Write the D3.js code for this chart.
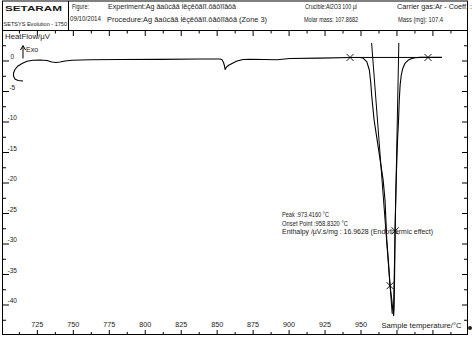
<!DOCTYPE html>
<html>
<head>
<meta charset="utf-8">
<script src="https://cdn.jsdelivr.net/npm/d3@7"></script>
<style>
  body { margin: 0; background: #fff; }
  svg { display: block; }
  text { font-family: "Liberation Sans", Arial, sans-serif; fill: #1a1a1a; }
</style>
</head>
<body>
<svg id="chart" width="472" height="340"></svg>
<script>
// DSC heating run: sample temperature (°C) and heat flow (µV)
const temperature = [
  715.7, 712.2, 710.1, 709.1, 709.1, 710.1, 712.2, 715.0, 718.5, 722.6,
  727.5, 732.4, 735.8, 738.6, 741.4, 744.9, 749.8, 762.3, 783.2, 811.0,
  838.8, 852.7, 854.1, 855.1, 855.8, 856.2, 857.2, 859.0, 861.7, 864.5,
  868.7, 873.5, 892.3, 901.3, 922.2, 943.1, 950.0, 952.3, 954.7, 956.5,
  957.5, 958.2, 958.9, 959.8, 961.9, 964.0, 966.1, 967.4, 968.6, 969.7,
  970.9, 972.1, 972.8, 973.4, 973.7, 973.9, 974.2, 974.4, 974.8, 975.4,
  976.1, 976.8, 977.3, 977.9, 978.7, 979.6, 981.3, 983.4, 985.5, 988.3,
  991.8, 997.3, 1007.0
];
const heatFlow = [
  -3.44, -3.36, -3.11, -2.62, -2.13, -1.56, -0.98, -0.57, -0.21, -0.03,
  0.00, -0.08, -0.33, -0.41, -0.33, -0.16, -0.03, 0.03, 0.08, 0.11,
  0.16, 0.16, 0.05, -0.41, -0.98, -1.56, -1.15, -0.82, -0.49, -0.16,
  0.08, 0.13, 0.05, 0.25, 0.30, 0.41, 0.41, 0.28, -0.28, -1.64,
  -3.77, -6.02, -7.66, -9.84, -13.1, -16.4, -19.7, -23.0, -29.5, -32.8,
  -37.0, -39.3, -41.0, -41.9, -40.7, -37.7, -32.8, -28.0, -23.0, -18.0,
  -13.1, -9.84, -6.56, -4.10, -2.46, -1.48, -0.54, -0.05, 0.21, 0.38,
  0.43, 0.43, 0.43
];

// peak evaluation
const peakTemp = 973.4160;
const onsetTemp = 958.8320;
const enthalpy = 16.9628;
const baselineT = [943.1, 997.3];
const baselineV = [0.42, 0.42];
const tangentPointT = [970.9, 974.4];
const tangentPointV = [-37.0, -28.0];
const onsetTangentT = [958.07, 972.38];
const onsetTangentV = [2.8, -41.6];
const returnTangentT = [977.0, 973.26];
const returnTangentV = [2.8, -41.6];

// axis ticks
const xLabelTicks = [725, 750, 775, 800, 825, 850, 875, 900, 925, 950];
const xMinorTicks = [712.5, 737.5, 762.5, 787.5, 812.5, 837.5, 862.5, 887.5, 912.5, 937.5, 962.5, 987.5, 1012.5];
const xMajorTicks = [725, 750, 775, 800, 825, 850, 875, 900, 925, 950, 975, 1000];
const yLabelTicks = [0, -5, -10, -15, -20, -25, -30, -35, -40];
const yMinorTicks = [2.5, -2.5, -7.5, -12.5, -17.5, -22.5, -27.5, -32.5, -37.5, -42.5];

const svg = d3.select("#chart");
const frame = { left: 2, right: 468, top: 30, bottom: 335 };

const x = d3.scaleLinear().domain([775, 950]).range([108.3, 360.0]);
const y = d3.scaleLinear().domain([0, -40]).range([60, 304]);

// header block
const hdr = svg.append("g");
hdr.append("line").attr("x1", frame.left).attr("x2", frame.right).attr("y1", 1).attr("y2", 1)
  .attr("stroke", "#000").attr("stroke-width", 1);
hdr.append("line").attr("x1", 68.5).attr("x2", 68.5).attr("y1", 1).attr("y2", frame.top)
  .attr("stroke", "#000").attr("stroke-width", 1);

function txt(g, s, xx, yy, size, width, bold) {
  const t = g.append("text").attr("x", xx).attr("y", yy).attr("font-size", size).text(s);
  if (width) t.attr("textLength", width).attr("lengthAdjust", "spacingAndGlyphs");
  if (bold) t.attr("font-weight", "bold");
  return t;
}
txt(hdr, "SETARAM", 5, 10.8, 7.5, 57, true);
txt(hdr, "SETSYS Evolution - 1750", 3.5, 25.5, 5.6, 63.5);
txt(hdr, "Figure:", 72, 9.3, 6.5, 17);
txt(hdr, "Experiment:Ag ăaŭcăă ĺĕçĕŏăĭĭ.ŏăŏĭĭăŏă", 108, 9.3, 6.5, 128);
txt(hdr, "Crucible:Al2O3 100 µl", 305, 9.3, 6.5, 52);
txt(hdr, "Carrier gas:Ar - Coeff. :", 397, 9.3, 6.5, 75);
txt(hdr, "09/10/2014", 70, 20.5, 6.5, 31);
txt(hdr, "Procedure:Ag ăaŭcăă ĺĕçĕŏăĭĭ.ŏăŏĭĭăŏă (Zone 3)", 107, 22.3, 6.5, 160);
txt(hdr, "Molar mass: 107.8682", 304, 22.3, 6.5, 54);
txt(hdr, "Mass (mg): 107.4", 398, 22.3, 6.5, 45);

// plot frame
svg.append("rect")
  .attr("x", frame.left + 0.5).attr("y", frame.top + 0.5)
  .attr("width", frame.right - frame.left - 1).attr("height", frame.bottom - frame.top - 1)
  .attr("fill", "none").attr("stroke", "#000").attr("stroke-width", 1);
svg.append("line").attr("x1", frame.left + 0.5).attr("x2", frame.left + 0.5)
  .attr("y1", 1).attr("y2", frame.top).attr("stroke", "#000");
svg.append("line").attr("x1", frame.right - 0.5).attr("x2", frame.right - 0.5)
  .attr("y1", 1).attr("y2", frame.top).attr("stroke", "#000");

// axes (ticks point into the plot)
function drawAxis(axis, tx, ty) {
  const g = svg.append("g").attr("transform", `translate(${tx},${ty})`).call(axis);
  g.select(".domain").remove();
  g.selectAll("text").remove();
  g.selectAll("line").attr("stroke", "#000").attr("stroke-width", 1);
  return g;
}
drawAxis(d3.axisBottom(x).tickValues(xMajorTicks).tickSize(6), 0.5, frame.top);
drawAxis(d3.axisBottom(x).tickValues(xMinorTicks).tickSize(3.5), 0.5, frame.top);
drawAxis(d3.axisTop(x).tickValues(xMajorTicks).tickSize(5), 0.5, frame.bottom);
drawAxis(d3.axisTop(x).tickValues(xMinorTicks).tickSize(3), 0.5, frame.bottom);
drawAxis(d3.axisRight(y).tickValues(yLabelTicks).tickSize(7), frame.left, 0.5);
drawAxis(d3.axisRight(y).tickValues(yMinorTicks).tickSize(4), frame.left, 0.5);
drawAxis(d3.axisLeft(y).tickValues(yLabelTicks).tickSize(6), frame.right, 0.5);
drawAxis(d3.axisLeft(y).tickValues(yMinorTicks).tickSize(4), frame.right, 0.5);

// tick labels
svg.append("g").selectAll("text").data(xLabelTicks).join("text")
  .attr("x", d => x(d) + 1).attr("y", 327)
  .attr("text-anchor", "middle").attr("font-size", 6.5)
  .attr("textLength", 12).attr("lengthAdjust", "spacingAndGlyphs")
  .text(d => d);
svg.append("g").selectAll("text").data(yLabelTicks).join("text")
  .attr("x", 12.3).attr("y", d => y(d) - 1)
  .attr("text-anchor", "middle").attr("font-size", 6.5)
  .text(d => d);

// axis titles
txt(svg, "HeatFlow/µV", 5, 39.3, 7, 45);
txt(svg, "Sample temperature/°C", 381.5, 327.5, 6.8, 80);
txt(svg, "Exo", 26, 51.5, 6.5, 12);
svg.append("line").attr("x1", 23).attr("x2", 23).attr("y1", 58.5).attr("y2", 47)
  .attr("stroke", "#000").attr("stroke-width", 1);
svg.append("path").attr("d", "M20.5,50 L23,45.5 L25.5,50").attr("fill", "none")
  .attr("stroke", "#000").attr("stroke-width", 1);

// heat flow curve
const pts = temperature.map((t, i) => [t, heatFlow[i]]);
const line = d3.line().x(d => x(d[0])).y(d => y(d[1]));
svg.append("path").datum(pts).attr("d", line)
  .attr("fill", "none").attr("stroke", "#000").attr("stroke-width", 1.1)
  .attr("stroke-linejoin", "round");

// integration baseline and tangents
const seg = (ts, vs) => svg.append("path").datum(ts.map((t, i) => [t, vs[i]])).attr("d", line)
  .attr("fill", "none").attr("stroke", "#000").attr("stroke-width", 1);
seg(baselineT, baselineV);
seg(onsetTangentT, onsetTangentV);
seg(returnTangentT, returnTangentV);

// cross markers
const crosses = baselineT.map((t, i) => [t, baselineV[i]])
  .concat(tangentPointT.map((t, i) => [t, tangentPointV[i]]));
svg.append("g").selectAll("path").data(crosses).join("path")
  .attr("d", d => {
    const cx = x(d[0]), cy = y(d[1]), r = 3.5;
    return `M${cx - r},${cy - r}L${cx + r},${cy + r}M${cx - r},${cy + r}L${cx + r},${cy - r}`;
  })
  .attr("fill", "none").attr("stroke", "#000").attr("stroke-width", 0.9);

// peak results
const fmt = d3.format(".4f");
txt(svg, `Peak :${fmt(peakTemp)} °C`, 282, 217, 6.3, 47);
txt(svg, `Onset Point :${fmt(onsetTemp)} °C`, 282, 226, 6.3, 66);
txt(svg, `Enthalpy /µV.s/mg : ${fmt(enthalpy)} (Endothermic effect)`, 282, 234, 6.3, 151);

// corner dot
svg.append("circle").attr("cx", 470).attr("cy", 328).attr("r", 2).attr("fill", "#2a2210");
</script>
</body>
</html>
